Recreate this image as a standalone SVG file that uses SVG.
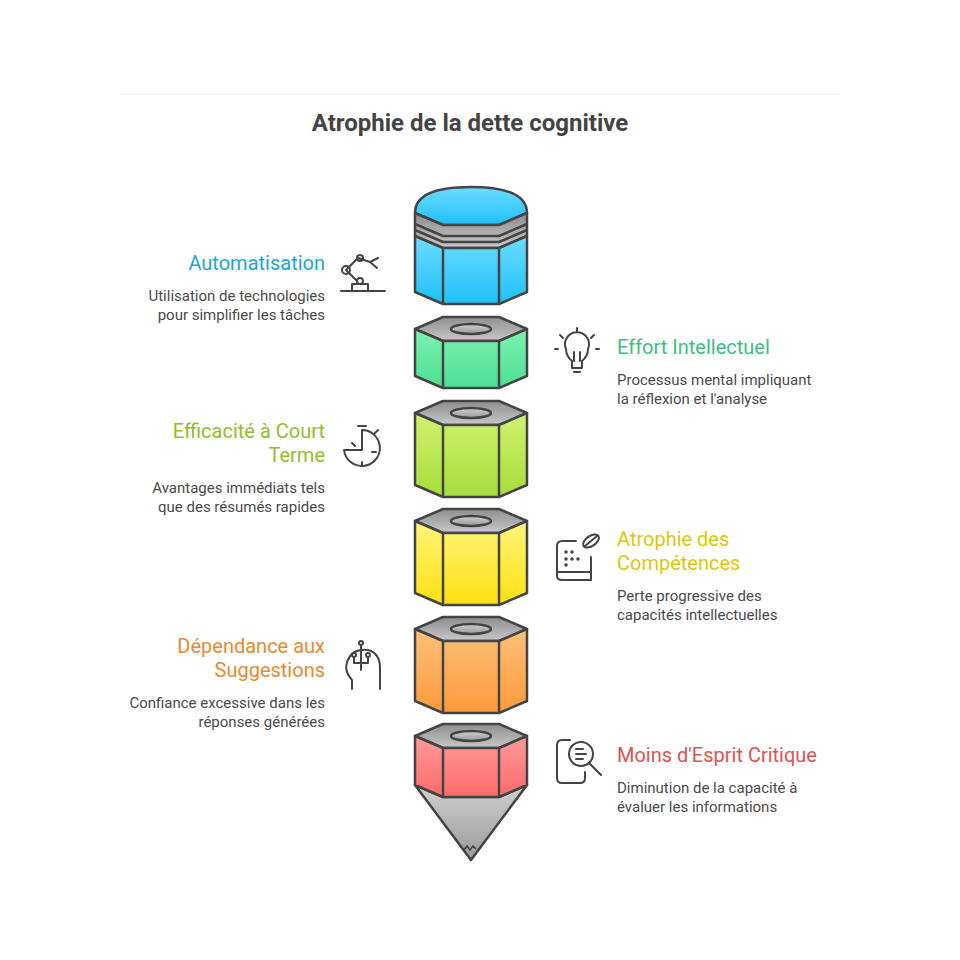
<svg xmlns="http://www.w3.org/2000/svg" width="960" height="960" viewBox="0 0 960 960">
<style>
.t{font-family:Roboto,"Liberation Sans",sans-serif;font-size:20px}
.d{font-family:Roboto,"Liberation Sans",sans-serif;font-size:15px;fill:#4a4a4a}
.s{stroke:#444;stroke-width:2.5;stroke-linejoin:round}
.ic{fill:none;stroke:#444;stroke-width:2;stroke-linecap:round;stroke-linejoin:round}
</style>
<defs>
<linearGradient id="gr" x1="0" y1="0" x2="0" y2="1"><stop offset="0" stop-color="#8e8e8e"/><stop offset="1" stop-color="#c8c8c8"/></linearGradient>
<linearGradient id="gc" x1="0" y1="0" x2="0" y2="1"><stop offset="0" stop-color="#d0d0d0"/><stop offset="1" stop-color="#9a9a9a"/></linearGradient>
<linearGradient id="bl" x1="0" y1="0" x2="0" y2="1"><stop offset="0" stop-color="#6ddcff"/><stop offset="1" stop-color="#1ec0fb"/></linearGradient>
<linearGradient id="gn" x1="0" y1="0" x2="0" y2="1"><stop offset="0" stop-color="#7cf2b0"/><stop offset="1" stop-color="#4ddf95"/></linearGradient>
<linearGradient id="lm" x1="0" y1="0" x2="0" y2="1"><stop offset="0" stop-color="#d0f270"/><stop offset="1" stop-color="#a6dd3a"/></linearGradient>
<linearGradient id="ye" x1="0" y1="0" x2="0" y2="1"><stop offset="0" stop-color="#fff57a"/><stop offset="1" stop-color="#ffe010"/></linearGradient>
<linearGradient id="or" x1="0" y1="0" x2="0" y2="1"><stop offset="0" stop-color="#ffc07a"/><stop offset="1" stop-color="#ff9a3a"/></linearGradient>
<linearGradient id="rd" x1="0" y1="0" x2="0" y2="1"><stop offset="0" stop-color="#ff9a9a"/><stop offset="1" stop-color="#ff6a6a"/></linearGradient>
</defs>
<rect width="960" height="960" fill="#fff"/>
<line x1="120" y1="94" x2="840" y2="94" stroke="#f4f4f4" stroke-width="2"/>
<text x="470" y="131" text-anchor="middle" font-family="Roboto,'Liberation Sans',sans-serif" font-size="24" font-weight="bold" fill="#444">Atrophie de la dette cognitive</text>

<g id="pencil-top">
<path class="s" fill="url(#bl)" d="M415,213 Q415,187 471,187 Q527,187 527,213 L499,225 L443,225 Z"/>
<path class="s" fill="url(#gr)" d="M415,213 L443,225 L499,225 L527,213 L527,236 L499,248 L443,248 L415,236 Z"/>
<path class="s" fill="none" d="M415,224 L443,236 L499,236 L527,224 M415,230 L443,242 L499,242 L527,230"/>
<path class="s" fill="url(#bl)" d="M415,236 L443,248 L443,304 L415,292 Z M443,248 L499,248 L499,304 L443,304 Z M499,248 L527,236 L527,292 L499,304 Z"/>
</g>
<g id="seg-green">
<path class="s" fill="url(#gr)" d="M415,329 L443,317 L499,317 L527,329 L499,341 L443,341 Z"/>
<ellipse class="s" cx="471" cy="329" rx="20" ry="5" fill="url(#gc)" stroke-width="2"/>
<path class="s" fill="url(#gn)" d="M415,329 L443,341 L443,388 L415,376 Z M443,341 L499,341 L499,388 L443,388 Z M499,341 L527,329 L527,376 L499,388 Z"/>
</g>
<g id="seg-lime">
<path class="s" fill="url(#gr)" d="M415,413 L443,401 L499,401 L527,413 L499,425 L443,425 Z"/>
<ellipse class="s" cx="471" cy="413" rx="20" ry="5" fill="url(#gc)" stroke-width="2"/>
<path class="s" fill="url(#lm)" d="M415,413 L443,425 L443,497 L415,485 Z M443,425 L499,425 L499,497 L443,497 Z M499,425 L527,413 L527,485 L499,497 Z"/>
</g>
<g id="seg-yellow">
<path class="s" fill="url(#gr)" d="M415,521 L443,509 L499,509 L527,521 L499,533 L443,533 Z"/>
<ellipse class="s" cx="471" cy="521" rx="20" ry="5" fill="url(#gc)" stroke-width="2"/>
<path class="s" fill="url(#ye)" d="M415,521 L443,533 L443,605 L415,593 Z M443,533 L499,533 L499,605 L443,605 Z M499,533 L527,521 L527,593 L499,605 Z"/>
</g>
<g id="seg-orange">
<path class="s" fill="url(#gr)" d="M415,629 L443,617 L499,617 L527,629 L499,641 L443,641 Z"/>
<ellipse class="s" cx="471" cy="629" rx="20" ry="5" fill="url(#gc)" stroke-width="2"/>
<path class="s" fill="url(#or)" d="M415,629 L443,641 L443,713 L415,701 Z M443,641 L499,641 L499,713 L443,713 Z M499,641 L527,629 L527,701 L499,713 Z"/>
</g>
<g id="seg-red">
<path class="s" fill="url(#gc)" d="M415,785 L443,797 L499,797 L527,785 L471,860 Z"/>
<path fill="none" stroke="#444" stroke-width="1.5" d="M464,850 L467,846 L470,850 L473,846 L476,849"/>
<path class="s" fill="url(#gr)" d="M415,736 L443,724 L499,724 L527,736 L499,748 L443,748 Z"/>
<ellipse class="s" cx="471" cy="736" rx="20" ry="5" fill="url(#gc)" stroke-width="2"/>
<path class="s" fill="url(#rd)" d="M415,736 L443,748 L443,797 L415,785 Z M443,748 L499,748 L499,797 L443,797 Z M499,748 L527,736 L527,785 L499,797 Z"/>
</g>

<g id="n-auto">
<text class="t" x="325" y="270" text-anchor="end" fill="#1aa7d6">Automatisation</text>
<text class="d" x="325" y="301" text-anchor="end">Utilisation de technologies</text>
<text class="d" x="325" y="320" text-anchor="end">pour simplifier les tâches</text>
<g class="ic"><path d="M341,291 H385 M352,291 V284 H368 V291 M346,270 L358,258 L370,262 M346,270 L356,280"/><circle cx="346" cy="270" r="4"/><circle cx="360" cy="258" r="3"/><circle cx="360" cy="281" r="3"/><path d="M370,262 L378,258 M370,262 L377,268"/></g>
</g>
<g id="n-effort">
<text class="t" x="617" y="354" fill="#3cc07e">Effort Intellectuel</text>
<text class="d" x="617" y="385">Processus mental impliquant</text>
<text class="d" x="617" y="404">la réflexion et l'analyse</text>
<g class="ic"><path d="M572,361 Q566,356 566,349 A12,12 0 1 1 588,349 Q588,356 582,361 V368 H572 Z M574,372 H580 M574,361 V352 M580,361 V352 M577,332 V328 M563,338 L560,335 M591,338 L594,335 M558,349 H555 M596,349 H599"/></g>
</g>
<g id="n-eff">
<text class="t" x="325" y="438" text-anchor="end" fill="#8fbf2a">Efficacité à Court</text>
<text class="t" x="325" y="462" text-anchor="end" fill="#8fbf2a">Terme</text>
<text class="d" x="325" y="493" text-anchor="end">Avantages immédiats tels</text>
<text class="d" x="325" y="512" text-anchor="end">que des résumés rapides</text>
<g class="ic"><path d="M362,430 A18,18 0 1 1 344,450 L362,450 Z M358,426 H366 M374,434 L378,430 M362,437 V442 M372,452 H376 M362,462 V466 M352,443 L355,446"/></g>
</g>
<g id="n-atro">
<text class="t" x="617" y="546" fill="#e0c60a">Atrophie des</text>
<text class="t" x="617" y="570" fill="#e0c60a">Compétences</text>
<text class="d" x="617" y="601">Perte progressive des</text>
<text class="d" x="617" y="620">capacités intellectuelles</text>
<g class="ic"><path d="M576,541 H562 Q557,541 557,546 V576 Q557,580 562,580 H591 V557 M557,572 H591"/><ellipse cx="591" cy="541" rx="9" ry="5" transform="rotate(-35 591 541)"/><path d="M585,546 L597,536"/><circle cx="566" cy="552" r="0.8"/><circle cx="572" cy="552" r="0.8"/><circle cx="566" cy="559" r="0.8"/><circle cx="572" cy="559" r="0.8"/><circle cx="578" cy="559" r="0.8"/><circle cx="566" cy="565" r="0.8"/></g>
</g>
<g id="n-dep">
<text class="t" x="325" y="653" text-anchor="end" fill="#e88a2e">Dépendance aux</text>
<text class="t" x="325" y="677" text-anchor="end" fill="#e88a2e">Suggestions</text>
<text class="d" x="325" y="708" text-anchor="end">Confiance excessive dans les</text>
<text class="d" x="325" y="727" text-anchor="end">réponses générées</text>
<g class="ic"><path d="M352,689 V680 Q344,672 347,662 Q352,648 368,650 Q380,653 380,668 V689 M361,645 V670 M354,657 V663 H361 M368,657 V663 H361"/><circle cx="361" cy="643" r="2"/><circle cx="354" cy="655" r="2"/><circle cx="368" cy="655" r="2"/></g>
</g>
<g id="n-moins">
<text class="t" x="617" y="762" fill="#e05252">Moins d'Esprit Critique</text>
<text class="d" x="617" y="793">Diminution de la capacité à</text>
<text class="d" x="617" y="812">évaluer les informations</text>
<g class="ic"><path d="M570,740 H562 Q557,740 557,745 V778 Q557,783 562,783 H580 Q585,783 585,778 V772"/><circle cx="581" cy="754" r="12"/><path d="M589,763 L601,775 M576,749 H583 M576,754 H586 M576,759 H583"/></g>
</g>
</svg>
